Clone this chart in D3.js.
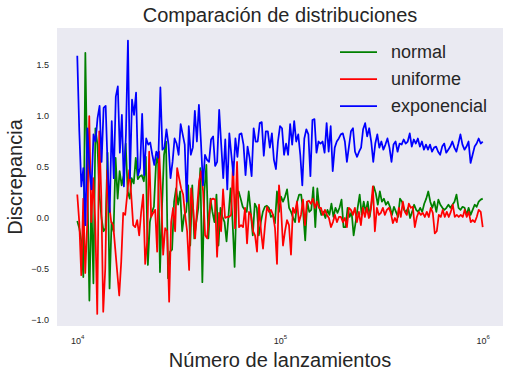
<!DOCTYPE html>
<html>
<head>
<meta charset="utf-8">
<script src="https://cdn.jsdelivr.net/npm/d3@7"></script>
<style>
  body { margin: 0; background: #fff; }
  text { font-family: "Liberation Sans", Arial, sans-serif; fill: #262626; }
</style>
</head>
<body>
<svg id="chart" width="510" height="380"></svg>
<script>
// Discrepancia por tipo de distribución (x en escala log de 1e4 a 1e6)
const normal = [
  -0.03, -0.10, -0.23, -0.58, 1.62, 0.36, -0.81, 0.19, -0.64, 0.88, 0.72, 0.23, 0.00, -0.13, -0.10, 0.64,
  -0.69, -0.04, -0.13, 0.59, 0.19, 0.46, 0.32, 0.42, 0.73, 0.26, 0.19, 0.39, 0.34, 0.59, 0.38, 0.41,
  0.42, 0.36, 0.60, -0.46, -0.04, 0.06, 0.11, 0.52, 0.64, -0.53, 0.10, 0.62, 0.75, -0.59, -0.33, -0.31,
  0.16, 0.29, 0.13, 0.26, -0.13, 0.03, 0.06, 0.32, -0.27, 0.32, -0.20, -0.04, 0.10, 0.49, -0.63, 0.26,
  0.52, -0.20,
  0.19, 0.06, -0.04, 0.23, -0.27, 0.10, 0.01, -0.04, -0.23, 0.03, 0.29, -0.04, -0.48, 0.23, 0.26, 0.19,
  0.11, 0.08, 0.06, 0.26, 0.06, -0.17, 0.14, 0.10, -0.17, -0.04, 0.06, 0.11, 0.12, 0.10, 0.01, 0.03,
  -0.05, 0.26, 0.06, 0.21, 0.16, 0.21, 0.28, 0.10, 0.06, 0.00, -0.04, 0.16, 0.23, 0.23, 0.05, -0.22,
  0.16, 0.06, 0.08, 0.30, -0.09, 0.29, 0.10, 0.03, 0.06, 0.00, 0.08, 0.03, 0.14, 0.01, 0.10, 0.05,
  0.10, 0.18, -0.09, -0.09, 0.10, 0.01, 0.06,
  -0.17, -0.04, 0.10, 0.23, 0.03, 0.16, 0.06, 0.16, 0.01, 0.16, 0.31, 0.24, 0.13, 0.26, 0.16, 0.19,
  0.13, 0.16, 0.11, 0.03, 0.11, 0.06, 0.01, 0.19, 0.16, 0.08, 0.06, 0.10, 0.00, 0.06, 0.13, 0.08,
  0.06, 0.10, 0.06, 0.14, 0.19, 0.26, 0.16, 0.10, 0.16, 0.06, 0.18, 0.13, 0.10, 0.08, 0.10, 0.13,
  0.10, 0.13, 0.16, 0.23, 0.10, 0.08, 0.11, 0.10, 0.03, 0.10, 0.03, 0.08, 0.13, 0.11, 0.16, 0.18,
  0.19
];

const uniforme = [
  0.23, -0.04, -0.56, 0.19, -0.54, -0.04, 1.00, -0.04, 0.39, -0.04, -0.94, 0.85, 0.23, -0.92, -0.50, 0.47,
  0.13, -0.04, -0.07, -0.30, -0.53, -0.76, -0.43, 0.05, 0.03, 0.23, 0.47, 0.23, -0.07, -0.09, -0.02, -0.17,
  0.06, 0.23, -0.45, -0.23, 0.65, 0.01, 0.05, 0.08, -0.33, 0.65, 0.23, -0.36, -0.10, -0.13, -0.82, -0.04,
  0.10, -0.13, 0.49, 0.39, 0.29, 0.23, 0.03, -0.13, -0.51, 0.29, 0.10, -0.20, 0.10, 0.36, 0.46, 0.26,
  -0.17, -0.20, 0.03, 0.18,
  0.19, 0.18, -0.38, 0.05, -0.13, 0.28, 0.00, 0.01, 0.01, 0.03, 0.55, -0.10, 0.55, -0.09, -0.07, -0.09,
  0.10, -0.25, 0.06, 0.03, -0.13, -0.17, -0.33, 0.13, -0.13, -0.30, -0.07, 0.11, 0.06, 0.08, 0.03, -0.10,
  -0.45, 0.32, 0.10, -0.27, -0.13, -0.02, -0.07, -0.36, 0.10, 0.05, 0.16, -0.04, 0.03, 0.18, -0.07, 0.16,
  0.17, 0.14, 0.19, 0.10, 0.16, 0.10, 0.10, 0.03, 0.08, 0.03, 0.00, -0.09, -0.04, 0.03, -0.04, 0.01,
  0.01, -0.04, 0.00, -0.09, 0.10, 0.08, 0.03,
  0.10, -0.04, 0.06, -0.07, 0.10, 0.01, 0.10, 0.00, 0.10, 0.31, -0.13, 0.10, 0.03, 0.05, 0.10, 0.03,
  0.08, 0.10, 0.05, -0.05, 0.00, -0.04, 0.10, 0.01, 0.16, 0.06, 0.03, 0.14, 0.10, 0.11, -0.09, 0.01,
  0.06, 0.03, 0.05, 0.01, 0.06, 0.01, 0.10, 0.05, -0.15, -0.13, 0.03, 0.01, 0.08, 0.01, 0.06, 0.01,
  0.06, 0.13, 0.01, 0.03, 0.01, 0.03, 0.01, 0.08, 0.01, 0.06, -0.04, -0.02, -0.04, 0.01, 0.08, 0.06,
  -0.09
];

const exponencial = [
  1.59, 0.85, 0.31, 0.49, -0.07, 0.88, 0.49, 0.28, 0.82, 0.75, 0.98, 1.10, 0.55, 1.08, 1.10, 0.49,
  0.06, 0.95, 0.39, 1.19, 1.29, 0.64, 1.01, 0.31, 0.82, 1.74, 0.39, 1.16, 1.01, 1.23, 0.42, 0.49,
  1.02, 0.42, 0.78, 0.72, 0.74, 0.62, 0.52, 0.65, 0.59, 1.28, 0.67, 0.69, 0.87, 0.72, 0.39, 0.55,
  0.78, 0.73, 0.62, 0.92, 0.82, 0.72, 0.16, 0.90, 0.62, 0.69, 1.05, 0.75, 1.11, 0.75, 0.32, 0.62,
  0.57, 0.55,
  0.77, 0.80, 0.51, 0.55, 1.06, 0.72, 0.39, 0.77, 0.28, 0.83, 0.62, 0.42, 0.78, 0.60, 0.82, 0.83,
  0.72, 0.42, 0.70, 0.59, 0.41, 0.88, 0.75, 0.75, 0.93, 0.94, 0.61, 0.85, 0.85, 0.69, 0.83, 0.57,
  0.48, 0.75, 0.90, 0.88, 0.62, 0.73, 0.62, 0.92, 0.72, 0.95, 0.75, 0.82, 0.62, 0.32, 0.78, 0.87,
  0.82, 0.41, 0.96, 0.97, 0.64, 0.75, 0.73, 0.75, 0.64, 0.93, 0.65, 0.90, 0.46, 0.69, 0.75, 0.78,
  0.82, 0.83, 0.75, 0.55, 0.70, 0.85,
  0.88, 0.65, 0.60, 0.65, 0.69, 0.87, 0.93, 0.80, 0.88, 0.75, 0.55, 0.73, 0.82, 0.69, 0.75, 0.67,
  0.72, 0.78, 0.69, 0.55, 0.72, 0.75, 0.65, 0.73, 0.72, 0.77, 0.73, 0.75, 0.83, 0.70, 0.77, 0.73,
  0.78, 0.70, 0.75, 0.67, 0.72, 0.67, 0.72, 0.65, 0.69, 0.70, 0.65, 0.62, 0.70, 0.73, 0.64, 0.67,
  0.70, 0.75, 0.69, 0.65, 0.73, 0.82, 0.72, 0.67, 0.70, 0.75, 0.54, 0.62, 0.70, 0.73, 0.78, 0.73,
  0.75
];

const seriesNames = ["normal", "uniforme", "exponencial"];
const seriesColors = ["#008000", "#ff0000", "#0000ff"];
const yTicks = [-1.0, -0.5, 0.0, 0.5, 1.0, 1.5];
const xTickExponents = [4, 5, 6];

const title = "Comparación de distribuciones";
const xLabel = "Número de lanzamientos";
const yLabel = "Discrepancia";

// Layout
const width = 510, height = 380;
const margin = { top: 28, right: 7, bottom: 54, left: 57 };
const innerW = width - margin.left - margin.right;
const innerH = height - margin.top - margin.bottom;

const svg = d3.select("#chart");

// Number of throws: log-spaced from 1e4 to 1e6, one per value
function lanzamientos(n) {
  return d3.range(n).map(i => Math.pow(10, 4 + 2 * i / (n - 1)));
}

const x = d3.scaleLog()
  .domain([Math.pow(10, 3.9), Math.pow(10, 6.1)])
  .range([margin.left, margin.left + innerW]);

const y = d3.scaleLinear()
  .domain([-1.059, 1.863])
  .range([margin.top + innerH, margin.top]);

// Axes background (seaborn "dark" style)
svg.append("rect")
  .attr("x", margin.left)
  .attr("y", margin.top)
  .attr("width", innerW)
  .attr("height", innerH)
  .attr("fill", "#eaeaf2");

// Y axis
const axisY = d3.axisLeft(y).tickValues(yTicks).tickSize(0).tickPadding(8).tickFormat(d3.format(".1f"));
svg.append("g")
  .attr("transform", `translate(${margin.left},0)`)
  .call(axisY)
  .call(g => g.select(".domain").remove())
  .call(g => g.selectAll("text")
    .attr("font-size", 9)
    .attr("font-family", null)
    .attr("fill", "#262626"));

// X axis with 10^n labels
const axisX = d3.axisBottom(x)
  .tickValues(xTickExponents.map(e => Math.pow(10, e)))
  .tickSize(0)
  .tickFormat("");
const gx = svg.append("g")
  .attr("transform", `translate(0,${margin.top + innerH})`)
  .call(axisX)
  .call(g => g.select(".domain").remove());

gx.selectAll(".tick text").remove();
gx.selectAll(".tick").each(function (d, i) {
  const t = d3.select(this).append("text")
    .attr("y", 18)
    .attr("text-anchor", "middle")
    .attr("font-size", 9)
    .attr("fill", "#262626");
  t.append("tspan").text("10");
  t.append("tspan")
    .attr("font-size", 6)
    .attr("dy", -5)
    .text(xTickExponents[i]);
});

// Lines
const line = d3.line()
  .x(d => x(d[0]))
  .y(d => y(d[1]));

const allSeries = [normal, uniforme, exponencial];
allSeries.forEach((values, i) => {
  const xs = lanzamientos(values.length);
  svg.append("path")
    .datum(values.map((v, j) => [xs[j], v]))
    .attr("fill", "none")
    .attr("stroke", seriesColors[i])
    .attr("stroke-width", 1.75)
    .attr("stroke-linejoin", "round")
    .attr("d", line);
});

// Legend
const legend = svg.append("g").attr("transform", "translate(340,52)");
seriesNames.forEach((name, i) => {
  const row = legend.append("g").attr("transform", `translate(0,${i * 27})`);
  row.append("line")
    .attr("x1", 0).attr("x2", 37)
    .attr("stroke", seriesColors[i])
    .attr("stroke-width", 1.75);
  row.append("text")
    .attr("x", 51)
    .attr("dy", "0.36em")
    .attr("font-size", 18)
    .text(name);
});

// Title and axis labels
svg.append("text")
  .attr("x", margin.left + innerW / 2)
  .attr("y", 22)
  .attr("text-anchor", "middle")
  .attr("font-size", 20)
  .text(title);

svg.append("text")
  .attr("x", margin.left + innerW / 2)
  .attr("y", 367)
  .attr("text-anchor", "middle")
  .attr("font-size", 20)
  .text(xLabel);

svg.append("text")
  .attr("transform", `translate(22,${margin.top + innerH / 2}) rotate(-90)`)
  .attr("text-anchor", "middle")
  .attr("font-size", 20)
  .text(yLabel);
</script>
</body>
</html>
